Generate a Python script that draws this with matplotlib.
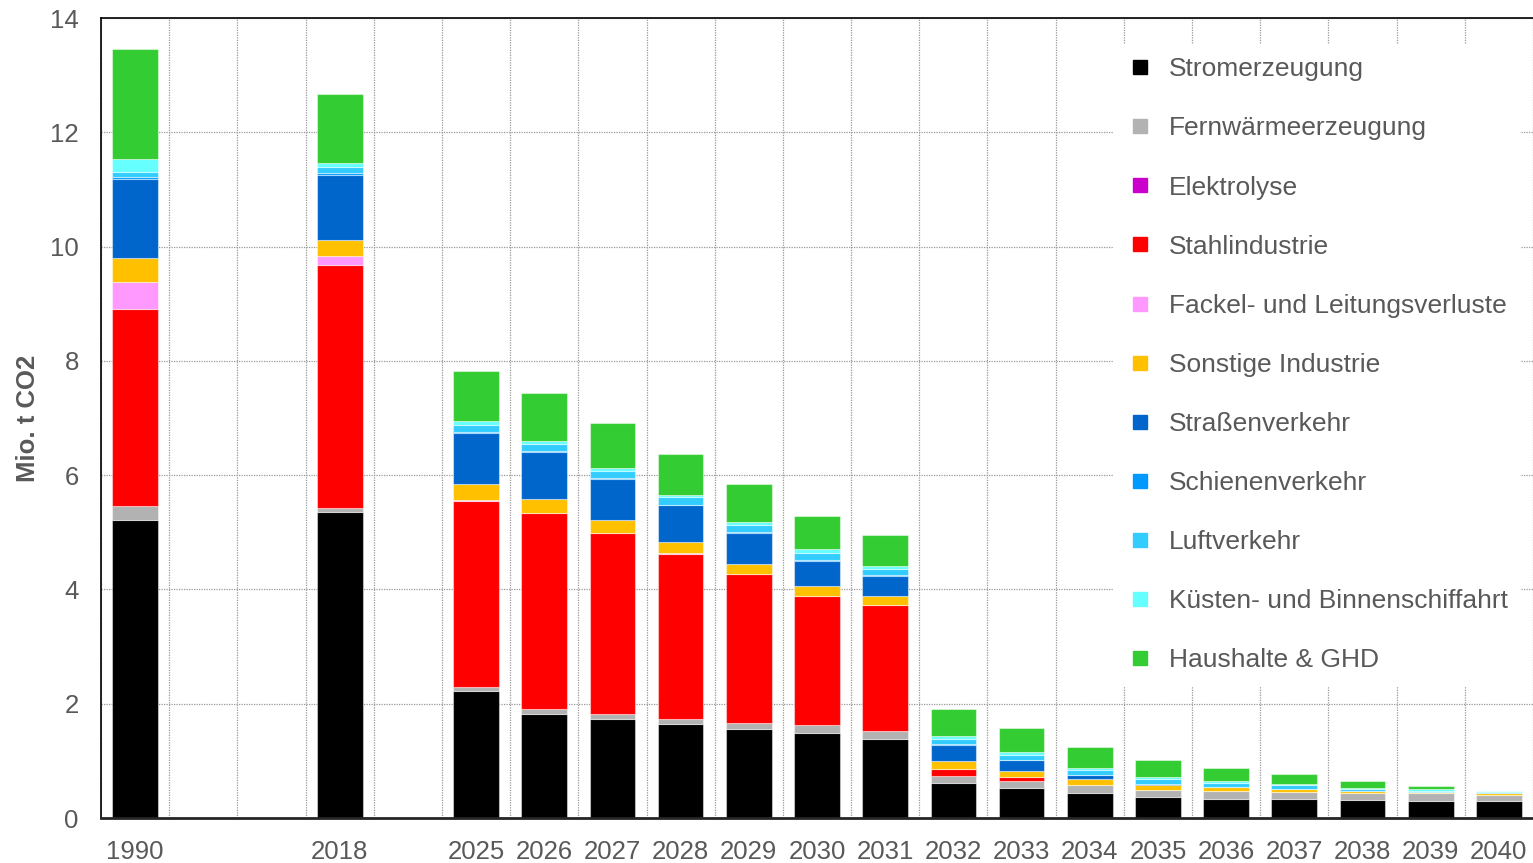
import numpy as np
import matplotlib
matplotlib.use("Agg")
import matplotlib.pyplot as plt
from matplotlib.lines import Line2D

plt.rcParams['font.family'] = ['Liberation Sans', 'DejaVu Sans']

# ----------- Daten (Mio. t CO2) -----------
jahre = ["1990", "", "", "2018", "", "2025", "2026", "2027", "2028", "2029", "2030",
         "2031", "2032", "2033", "2034", "2035", "2036", "2037", "2038", "2039", "2040"]

strom = [5.22, 0, 0, 5.36, 0, 2.23, 1.82, 1.73, 1.65, 1.56, 1.48, 1.39, 0.62, 0.53,
         0.44, 0.36, 0.34, 0.33, 0.32, 0.30, 0.29]
fernwaerme = [0.24, 0, 0, 0.07, 0, 0.06, 0.08, 0.09, 0.08, 0.10, 0.14, 0.14, 0.12, 0.12,
              0.13, 0.13, 0.13, 0.13, 0.12, 0.13, 0.12]
elektrolyse = [0] * 21
stahl = [3.45, 0, 0, 4.25, 0, 3.25, 3.43, 3.16, 2.89, 2.61, 2.27, 2.20, 0.12, 0.07,
         0.01, 0, 0, 0, 0, 0, 0]
fackel = [0.47, 0, 0, 0.16, 0, 0.03, 0.01, 0.01, 0.01, 0, 0, 0, 0, 0, 0, 0, 0, 0, 0, 0, 0]
sonstige = [0.42, 0, 0, 0.27, 0, 0.28, 0.25, 0.22, 0.20, 0.18, 0.17, 0.15, 0.14, 0.11,
            0.10, 0.08, 0.07, 0.04, 0.03, 0.02, 0.02]
strasse = [1.38, 0, 0, 1.15, 0, 0.89, 0.82, 0.73, 0.64, 0.54, 0.44, 0.36, 0.28, 0.18,
           0.07, 0.02, 0.01, 0, 0, 0, 0]
schiene = [0.03, 0, 0, 0.02, 0, 0.01, 0.01, 0.01, 0.01, 0.01, 0.01, 0.01, 0.01, 0.01,
           0, 0, 0, 0, 0, 0, 0]
luft = [0.09, 0, 0, 0.12, 0, 0.13, 0.12, 0.12, 0.13, 0.13, 0.13, 0.11, 0.09, 0.09,
        0.09, 0.09, 0.06, 0.07, 0.04, 0.03, 0.03]
kuesten = [0.24, 0, 0, 0.07, 0, 0.06, 0.06, 0.06, 0.05, 0.05, 0.06, 0.05, 0.06, 0.04,
           0.03, 0.03, 0.03, 0.02, 0.01, 0.02, 0.02]
haushalte = [1.91, 0, 0, 1.20, 0, 0.89, 0.83, 0.78, 0.71, 0.66, 0.59, 0.54, 0.47, 0.42,
             0.37, 0.30, 0.24, 0.18, 0.13, 0.06, 0.0]

sektoren = ["Stromerzeugung", "Fernwärmeerzeugung", "Elektrolyse", "Stahlindustrie",
            "Fackel- und Leitungsverluste", "Sonstige Industrie", "Straßenverkehr",
            "Schienenverkehr", "Luftverkehr", "Küsten- und Binnenschiffahrt",
            "Haushalte & GHD"]
werte = [strom, fernwaerme, elektrolyse, stahl, fackel, sonstige, strasse, schiene,
         luft, kuesten, haushalte]
farben = ["#000000", "#B2B2B2", "#CC00CC", "#FF0000", "#FF99FF", "#FFC000",
          "#0066CC", "#0099FF", "#33CCFF", "#66FFFF", "#33CC33"]

# ----------- Plot -----------
fig = plt.figure(figsize=(15.33, 8.63), dpi=100)
ax = fig.add_axes([101 / 1533, 45 / 863, 1 - 101 / 1533, 800 / 863])

x = np.arange(len(jahre))
unten = np.zeros(len(jahre))
for name, w, f in zip(sektoren, werte, farben):
    w = np.array(w, dtype=float)
    ax.bar(x, w, bottom=unten, width=0.67, color=f, edgecolor=(1, 1, 1, 0.45),
           linewidth=0.8, zorder=2)
    unten += w

ax.set_xlim(-0.5, len(jahre) - 0.5)
ax.set_ylim(0, 14)
ax.set_yticks(np.arange(0, 15, 2))
ax.set_xticks(x)
ax.set_xticklabels(jahre)
ax.set_xticks(np.arange(-0.5, len(jahre), 1), minor=True)

grau = "#595959"
ax.tick_params(axis='both', which='both', length=0, labelsize=18.5, colors=grau)
ax.tick_params(axis='x', pad=15.5)
ax.tick_params(axis='y', pad=16)
ax.grid(axis='y', which='major', linestyle=(0, (1, 1)), color='#999999', linewidth=0.9,
        zorder=0)
ax.grid(axis='x', which='minor', linestyle=(0, (1, 1)), color='#999999', linewidth=0.9,
        zorder=0)
ax.set_axisbelow(True)

ax.spines['right'].set_visible(False)
for s in ['left', 'top']:
    ax.spines[s].set_color('black')
    ax.spines[s].set_linewidth(1.2)
ax.spines['bottom'].set_color('#262626')
ax.spines['bottom'].set_linewidth(2)

ax.set_ylabel("Mio. t CO2", fontsize=18.5, fontweight='bold', color=grau, labelpad=7)

griffe = [Line2D([], [], marker='s', linestyle='none', markersize=9.5, color=f)
          for f in farben]
leg = ax.legend(griffe, sektoren, loc='upper left', bbox_to_anchor=(1100 / 1533, 1 - 31 / 863),
                bbox_transform=fig.transFigure, frameon=True, fontsize=19,
                labelspacing=1.33, handletextpad=0.6, borderpad=0.5, handlelength=1.0,
                labelcolor=grau)
leg.get_frame().set_facecolor('white')
leg.get_frame().set_edgecolor('none')
leg.get_frame().set_alpha(1)
leg.get_frame().set_boxstyle('square', pad=0)

fig.savefig("out.png", dpi=100)
